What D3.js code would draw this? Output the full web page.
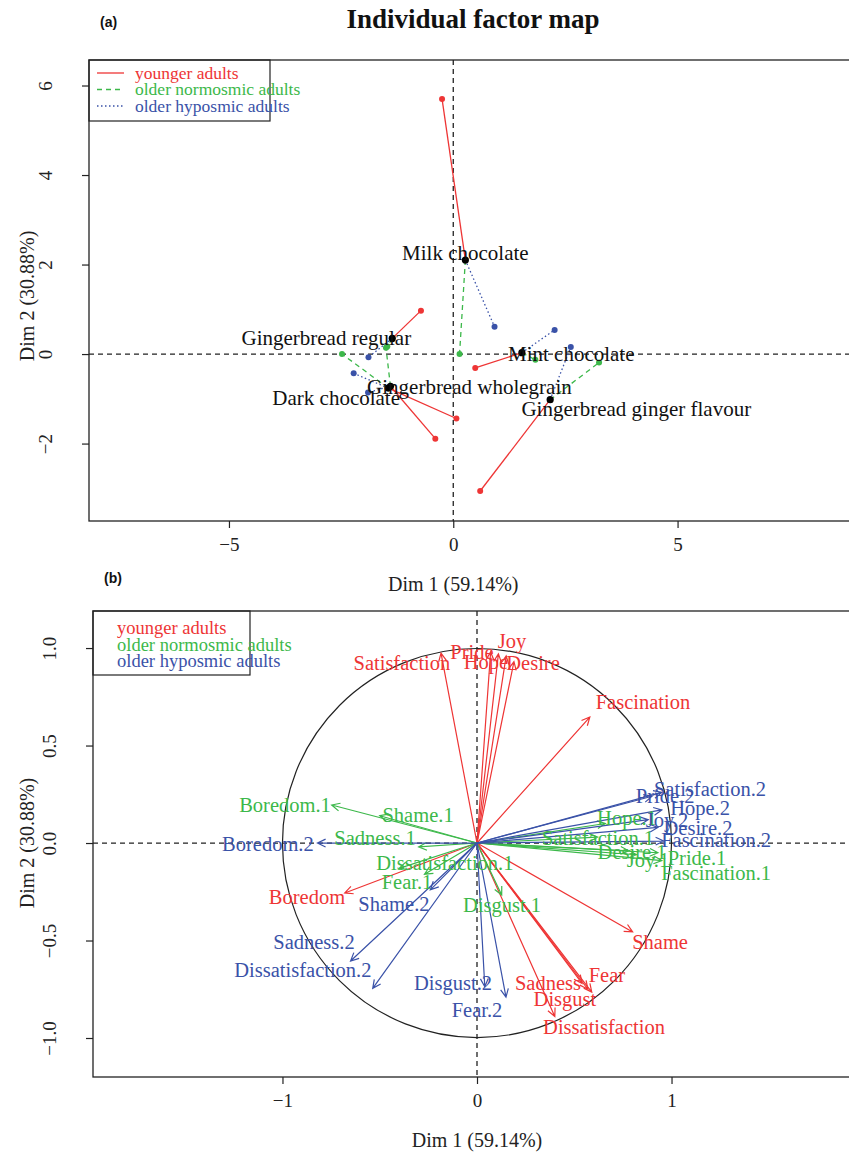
<!DOCTYPE html>
<html>
<head>
<meta charset="utf-8">
<script src="https://cdn.jsdelivr.net/npm/d3@7"></script>
<style>
  body { margin: 0; background: #fff; }
  text { font-family: "Liberation Serif", "Times New Roman", serif; }
</style>
</head>
<body>
<div id="chart"></div>
<script>
const W = 849, H = 1158;

// ---- data ----
const groups = ["younger adults", "older normosmic adults", "older hyposmic adults"];
const colors = ["#ee3535", "#3cb84a", "#3a52a8"];

// panel (a): product centroids and the partial points of each group
const products = ["Milk chocolate", "Gingerbread regular", "Dark chocolate",
                  "Gingerbread wholegrain", "Mint chocolate", "Gingerbread ginger flavour"];
const productDim1 = [0.27, -1.36, -1.45, -1.40, 1.53, 2.16];
const productDim2 = [2.10, 0.35, -0.76, -0.72, 0.03, -1.02];
const productLabelDim1 = [0.27, -2.83, -2.61, 0.36, 2.63, 4.08];
const productLabelDim2 = [2.26, 0.36, -0.98, -0.72, 0.00, -1.21];
// rows = products, columns = groups
const partialDim1 = [[-0.25, 0.14, 0.92], [-0.72, -1.47, -1.89], [0.07, -2.48, -2.22],
                     [-0.40, -1.50, -1.90], [0.49, 1.83, 2.26], [0.60, 3.25, 2.62]];
const partialDim2 = [[5.70, 0.00, 0.61], [0.97, 0.17, -0.07], [-1.44, 0.00, -0.43],
                     [-1.89, 0.14, -0.86], [-0.31, -0.13, 0.54], [-3.06, -0.19, 0.16]];

// panel (b): variables (emotion x group)
const emotions = ["Joy", "Pride", "Hope", "Desire", "Satisfaction", "Fascination",
                  "Boredom", "Shame", "Sadness", "Fear", "Disgust", "Dissatisfaction"];
const suffixes = ["", ".1", ".2"];
const varDim1 = [
  [0.15, 0.07, 0.11, 0.19, -0.185, 0.58, -0.68, 0.80, 0.54, 0.59, 0.57, 0.40],
  [0.82, 0.93, 0.66, 0.78, 0.62, 0.95, -0.747, -0.50, -0.30, -0.27, 0.127, -0.40],
  [0.88, 0.90, 0.95, 0.93, 0.95, 0.96, -0.82, -0.24, -0.65, 0.149, 0.04, -0.536]
];
const varDim2 = [
  [0.96, 0.98, 0.97, 0.93, 0.974, 0.646, -0.256, -0.456, -0.72, -0.765, -0.75, -0.89],
  [-0.06, -0.05, 0.10, -0.04, 0.03, -0.09, 0.195, 0.14, -0.02, -0.16, -0.267, -0.13],
  [0.12, 0.24, 0.17, 0.08, 0.26, 0.01, 0.0, -0.24, -0.605, -0.79, -0.737, -0.745]
];
const labelDim1 = [
  [0.180, -0.026, 0.046, 0.288, -0.386, 0.853, -0.874, 0.941, 0.365, 0.668, 0.452, 0.653],
  [0.879, 1.131, 0.771, 0.797, 0.622, 1.229, -0.987, -0.303, -0.524, -0.36, 0.129, -0.165],
  [0.977, 0.967, 1.147, 1.136, 1.198, 1.229, -1.075, -0.427, -0.838, 0.0, -0.123, -0.895]
];
const labelDim2 = [
  [1.036, 0.98, 0.928, 0.923, 0.923, 0.723, -0.277, -0.508, -0.718, -0.677, -0.80, -0.944],
  [-0.087, -0.077, 0.128, -0.046, 0.026, -0.154, 0.195, 0.144, 0.026, -0.20, -0.318, -0.103],
  [0.118, 0.241, 0.179, 0.077, 0.277, 0.015, -0.005, -0.313, -0.508, -0.856, -0.718, -0.651]
];

const xTicksA = [-5, 0, 5], yTicksA = [-2, 0, 2, 4, 6];
const xTicksB = [-1, 0, 1], yTicksB = [-1.0, -0.5, 0.0, 0.5, 1.0];
const xTitle = "Dim 1 (59.14%)", yTitle = "Dim 2 (30.88%)";

const fmtMinus = f => d => f(d).replace("-", "\u2212");

const svg = d3.select("#chart").append("svg")
  .attr("width", W).attr("height", H);

// ---- scales ----
const boxA = { left: 89, right: 857, top: 60, bottom: 521 };
const boxB = { left: 93, right: 861, top: 611, bottom: 1077 };
const xA = d3.scaleLinear().domain([-8.12, 9.0]).range([boxA.left, boxA.right]);
const yA = d3.scaleLinear().domain([-3.73, 6.57]).range([boxA.bottom, boxA.top]);
const xB = d3.scaleLinear().domain([-1.974, 1.974]).range([boxB.left, boxB.right]);
const yB = d3.scaleLinear().domain([-1.20, 1.19]).range([boxB.bottom, boxB.top]);

function frame(box, x, y, xt, yt, yfmt, ylabelY) {
  svg.append("rect")
    .attr("x", box.left).attr("y", box.top)
    .attr("width", box.right - box.left).attr("height", box.bottom - box.top)
    .attr("fill", "none").attr("stroke", "#222").attr("stroke-width", 1.3);

  const gx = svg.append("g").attr("transform", `translate(0,${box.bottom})`)
    .call(d3.axisBottom(x).tickValues(xt).tickSize(7).tickPadding(10).tickFormat(fmtMinus(d3.format("d"))));
  gx.select(".domain").remove();
  gx.selectAll("line").attr("stroke", "#222").attr("stroke-width", 1.2);
  gx.selectAll("text").attr("font-size", 19).attr("fill", "#222")
    .style("font-family", "Liberation Serif");

  const gy = svg.append("g").attr("transform", `translate(${box.left},0)`)
    .call(d3.axisLeft(y).tickValues(yt).tickSize(7).tickFormat(fmtMinus(yfmt)));
  gy.select(".domain").remove();
  gy.selectAll("line").attr("stroke", "#222").attr("stroke-width", 1.2);
  gy.selectAll("text")
    .attr("font-size", 19).attr("fill", "#222")
    .style("font-family", "Liberation Serif")
    .attr("x", 0).attr("dy", 0)
    .attr("text-anchor", "middle")
    .attr("transform", "translate(-37,0) rotate(-90)");

  svg.append("text").attr("x", x(0)).attr("y", box.bottom + 70)
    .attr("text-anchor", "middle").attr("font-size", 20).attr("fill", "#222").text(xTitle);
  svg.append("text")
    .attr("transform", `translate(34,${ylabelY}) rotate(-90)`)
    .attr("text-anchor", "middle").attr("font-size", 20).attr("fill", "#222").text(yTitle);

  // dashed axes through origin
  svg.append("line").attr("x1", box.left).attr("x2", box.right)
    .attr("y1", y(0)).attr("y2", y(0))
    .attr("stroke", "#222").attr("stroke-width", 1.3).attr("stroke-dasharray", "5,4");
  svg.append("line").attr("x1", x(0)).attr("x2", x(0))
    .attr("y1", box.top).attr("y2", box.bottom)
    .attr("stroke", "#222").attr("stroke-width", 1.3).attr("stroke-dasharray", "5,4");
}

// ---- panel (a) ----
svg.append("text").attr("x", 473).attr("y", 28).attr("text-anchor", "middle")
  .attr("font-size", 27).attr("font-weight", "bold").attr("fill", "#111")
  .text("Individual factor map");
svg.append("text").attr("x", 100).attr("y", 27)
  .style("font-family", "Liberation Sans, Arial, sans-serif")
  .attr("font-size", 14).attr("font-weight", "bold").attr("fill", "#111").text("(a)");

frame(boxA, xA, yA, xTicksA, yTicksA, d3.format("d"), yA(1.3));

const dashes = [null, "5,4", "1.5,2.5"];
const segs = [];
products.forEach((p, i) => {
  groups.forEach((g, j) => {
    segs.push({ i, j });
  });
});
svg.append("g").selectAll("line").data(segs).join("line")
  .attr("x1", d => xA(productDim1[d.i])).attr("y1", d => yA(productDim2[d.i]))
  .attr("x2", d => xA(partialDim1[d.i][d.j])).attr("y2", d => yA(partialDim2[d.i][d.j]))
  .attr("stroke", d => colors[d.j]).attr("stroke-width", 1.3)
  .attr("stroke-dasharray", d => dashes[d.j]);
svg.append("g").selectAll("circle").data(segs).join("circle")
  .attr("cx", d => xA(partialDim1[d.i][d.j])).attr("cy", d => yA(partialDim2[d.i][d.j]))
  .attr("r", 3).attr("fill", d => colors[d.j]);
svg.append("g").selectAll("circle").data(products).join("circle")
  .attr("cx", (d, i) => xA(productDim1[i])).attr("cy", (d, i) => yA(productDim2[i]))
  .attr("r", 3.6).attr("fill", "#000");
svg.append("g").selectAll("text").data(products).join("text")
  .attr("x", (d, i) => xA(productLabelDim1[i])).attr("y", (d, i) => yA(productLabelDim2[i]))
  .attr("dy", "0.35em").attr("text-anchor", "middle")
  .attr("font-size", 21).attr("fill", "#111").text(d => d);

// legend (a)
const legA = svg.append("g");
legA.append("rect").attr("x", boxA.left).attr("y", boxA.top).attr("width", 181).attr("height", 61)
  .attr("fill", "#fff").attr("fill-opacity", 0).attr("stroke", "#222").attr("stroke-width", 1.2);
groups.forEach((g, j) => {
  const ly = boxA.top + 13 + j * 16.5;
  legA.append("line").attr("x1", 97).attr("x2", 124).attr("y1", ly).attr("y2", ly)
    .attr("stroke", colors[j]).attr("stroke-width", 1.3).attr("stroke-dasharray", dashes[j]);
  legA.append("text").attr("x", 135).attr("y", ly).attr("dy", "0.33em")
    .attr("font-size", 17.5).attr("fill", colors[j]).text(g);
});

// ---- panel (b) ----
svg.append("text").attr("x", 104).attr("y", 583)
  .style("font-family", "Liberation Sans, Arial, sans-serif")
  .attr("font-size", 14).attr("font-weight", "bold").attr("fill", "#111").text("(b)");

frame(boxB, xB, yB, xTicksB, yTicksB, d3.format(".1f"), yB(0));

svg.append("circle").attr("cx", xB(0)).attr("cy", yB(0))
  .attr("r", xB(1) - xB(0)).attr("fill", "none").attr("stroke", "#222").attr("stroke-width", 1.2);

const vars = [];
suffixes.forEach((s, j) => emotions.forEach((e, k) => vars.push({ j, k, name: e + s })));

const arrowG = svg.append("g");
arrowG.selectAll("path").data(vars).join("path")
  .attr("d", d => {
    const x0 = xB(0), y0 = yB(0);
    const x1 = xB(varDim1[d.j][d.k]), y1 = yB(varDim2[d.j][d.k]);
    const a = Math.atan2(y1 - y0, x1 - x0), L = 9, t = Math.PI / 7;
    const hx1 = x1 - L * Math.cos(a - t), hy1 = y1 - L * Math.sin(a - t);
    const hx2 = x1 - L * Math.cos(a + t), hy2 = y1 - L * Math.sin(a + t);
    return `M${x0},${y0}L${x1},${y1}M${hx1},${hy1}L${x1},${y1}L${hx2},${hy2}`;
  })
  .attr("fill", "none").attr("stroke", d => colors[d.j]).attr("stroke-width", 1.2);

svg.append("g").selectAll("text").data(vars).join("text")
  .attr("x", d => xB(labelDim1[d.j][d.k])).attr("y", d => yB(labelDim2[d.j][d.k]))
  .attr("dy", "0.35em").attr("text-anchor", "middle")
  .attr("font-size", 20.5).attr("fill", d => colors[d.j]).text(d => d.name);

// legend (b)
const legB = svg.append("g");
legB.append("rect").attr("x", boxB.left).attr("y", boxB.top).attr("width", 157).attr("height", 64)
  .attr("fill", "none").attr("stroke", "#222").attr("stroke-width", 1.2);
groups.forEach((g, j) => {
  legB.append("text").attr("x", 117).attr("y", boxB.top + 17 + j * 16.5).attr("dy", "0.33em")
    .attr("font-size", 18.5).attr("fill", colors[j]).text(g);
});
</script>
</body>
</html>
